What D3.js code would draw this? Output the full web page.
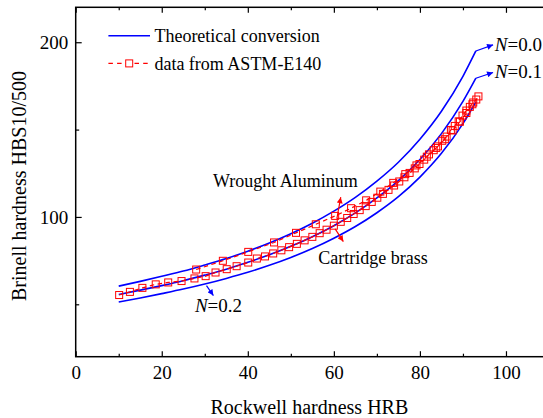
<!DOCTYPE html>
<html>
<head>
<meta charset="utf-8">
<script src="https://cdn.jsdelivr.net/npm/d3@7"></script>
<style>
    body { margin: 0; background: #ffffff; }
    svg text { font-family: "Liberation Serif", "Times New Roman", serif; }
</style>
</head>
<body>
<svg id="drawing_region"></svg>
<script>
// theoretical conversion curves (HRB -> HBS10/500)
const hrb_curve = [10, 15, 20, 25, 30, 35, 40, 45, 50, 55, 60, 65, 70, 75, 80, 85, 90, 93];
const hb_n00 = [60.4, 63.1, 66.0, 69.0, 72.5, 76.2, 80.4, 85.1, 90.4, 96.4, 103.3, 111.2, 120.5, 131.3, 144.5, 160.5, 180.5, 195.0];
const hb_n01 = [55.6, 58.1, 60.7, 63.5, 66.7, 70.1, 74.0, 78.3, 83.2, 88.7, 95.0, 102.3, 110.9, 120.8, 132.9, 147.7, 166.1, 179.4];
const hb_n02 = [51.3, 53.6, 56.1, 58.7, 61.6, 64.8, 68.3, 72.3, 76.8, 81.9, 87.8, 94.5, 102.4, 111.6, 122.8, 136.4, 153.4, 165.8];

// ASTM-E140 data : cartridge brass
const hrb_brass = [10.1, 12.6, 15.5, 18.6, 21.5, 24.6, 27.6, 30.2, 32.5, 35.1, 37.4, 40.1, 42.1, 44.0, 45.9,
    47.8, 49.6, 51.4, 53.2, 55.0, 56.7, 58.3, 60.0, 61.6, 63.1, 64.6, 66.0, 67.4, 68.8, 70.1, 71.4, 72.7,
    74.0, 75.2, 76.4, 77.6, 78.8, 79.9, 81.0, 82.1, 83.2, 84.2, 85.2, 86.2, 87.2, 88.1, 89.0, 89.9, 90.8,
    91.6, 92.4, 93.1, 93.6];
const hb_brass = [55.3, 57.1, 59.4, 61.4, 62.5, 63.3, 64.8, 66.1, 68.2, 70.1, 71.8, 73.9, 76.2, 77.4, 79.1,
    80.9, 82.7, 84.6, 86.6, 88.6, 90.7, 92.7, 95.0, 97.2, 99.4, 101.7, 103.9, 106.2, 108.6, 111.0, 113.2, 115.5,
    118.0, 120.3, 122.7, 125.2, 127.8, 130.3, 132.8, 135.8, 138.2, 140.4, 143.6, 146.0, 149.8, 152.1, 154.7, 158.0, 160.9,
    163.0, 165.5, 167.2, 169.0];

// ASTM-E140 data : wrought aluminum
const hrb_alum = [28.0, 34.2, 40.1, 46.1, 51.2, 55.8, 60.3, 64.0, 67.5, 70.8, 73.8, 76.6, 79.2, 81.6, 83.8, 85.8, 87.6, 89.3, 90.8, 92.2];
const hb_alum = [69.9, 74.9, 80.0, 85.4, 90.9, 95.8, 100.6, 105.0, 109.5, 114.5, 119.5, 124.5, 129.5, 134.5, 139.5, 144.5, 149.5, 154.5, 159.5, 164.5];

const x_ticks = [0, 20, 40, 60, 80, 100];
const x_minor = [10, 30, 50, 70, 90];
const y_ticks = [100, 200];
const y_minor = [50, 150];

const W = 543, H = 418;
const svg = d3.select('#drawing_region').attr('width', W).attr('height', H);

const xscale = d3.scaleLinear().domain([0, 110]).range([75.7, 549]);
const yscale = d3.scaleLinear().domain([20, 220]).range([356.7, 7.3]);

const zip = (xs, ys) => xs.map((d, i) => ({x: d, y: ys[i]}));

// arrow markers
const defs = svg.append('defs');
[['arr_blue', '#0000ff'], ['arr_red', '#ff0000']].forEach(([id, col]) => {
    defs.append('marker')
        .attr('id', id)
        .attr('viewBox', '0 0 10 10')
        .attr('refX', 10).attr('refY', 5)
        .attr('markerWidth', 8).attr('markerHeight', 6)
        .attr('markerUnits', 'userSpaceOnUse')
        .attr('orient', 'auto')
        .append('path')
        .attr('d', 'M0,0 L10,5 L0,10 z')
        .attr('fill', col);
});

// frame
svg.append('rect')
    .attr('x', xscale(0)).attr('y', yscale(220))
    .attr('width', xscale(110) - xscale(0))
    .attr('height', yscale(20) - yscale(220))
    .attr('fill', 'none').attr('stroke', '#000').attr('stroke-width', 1.5);

function style_axis(g) {
    g.select('.domain').remove();
    g.selectAll('line').attr('stroke', '#000').attr('stroke-width', 1.2);
    g.attr('font-family', '"Liberation Serif", serif').attr('font-size', 19);
    g.selectAll('text').attr('fill', '#000');
}

// bottom axis
svg.append('g')
    .attr('transform', `translate(0,${yscale(20)})`)
    .call(d3.axisBottom(xscale).tickValues(x_ticks).tickSize(-5.5).tickPadding(9).tickFormat(d3.format('d')))
    .call(style_axis);
svg.append('g')
    .attr('transform', `translate(0,${yscale(20)})`)
    .call(d3.axisBottom(xscale).tickValues(x_minor).tickSize(-3).tickFormat(() => ''))
    .call(style_axis);
// top axis (mirror ticks)
svg.append('g')
    .attr('transform', `translate(0,${yscale(220)})`)
    .call(d3.axisTop(xscale).tickValues(x_ticks).tickSize(-5.5).tickFormat(() => ''))
    .call(style_axis);
svg.append('g')
    .attr('transform', `translate(0,${yscale(220)})`)
    .call(d3.axisTop(xscale).tickValues(x_minor).tickSize(-3).tickFormat(() => ''))
    .call(style_axis);
// left axis
svg.append('g')
    .attr('transform', `translate(${xscale(0)},0)`)
    .call(d3.axisLeft(yscale).tickValues(y_ticks).tickSize(-6).tickPadding(7.4).tickFormat(d3.format('d')))
    .call(style_axis);
svg.append('g')
    .attr('transform', `translate(${xscale(0)},0)`)
    .call(d3.axisLeft(yscale).tickValues(y_minor).tickSize(-3.5).tickFormat(() => ''))
    .call(style_axis);

// axis titles
svg.append('text')
    .attr('x', 309.4).attr('y', 413.5)
    .attr('text-anchor', 'middle')
    .attr('font-size', 20)
    .text('Rockwell hardness HRB');
svg.append('text')
    .attr('transform', 'translate(26,186) rotate(-90)')
    .attr('text-anchor', 'middle')
    .attr('font-size', 20)
    .text('Brinell hardness HBS10/500');

// theoretical curves
const curve_line = d3.line()
    .x(d => xscale(d.x)).y(d => yscale(d.y))
    .curve(d3.curveMonotoneX);
[hb_n00, hb_n01, hb_n02].forEach(hb => {
    svg.append('path')
        .datum(zip(hrb_curve, hb))
        .attr('d', curve_line)
        .attr('fill', 'none')
        .attr('stroke', '#0000ff')
        .attr('stroke-width', 1.6);
});

// data series
const data_line = d3.line().x(d => xscale(d.x)).y(d => yscale(d.y));
const sq = 7;
[[hrb_alum, hb_alum], [hrb_brass, hb_brass]].forEach(([xs, ys]) => {
    const pts = zip(xs, ys);
    svg.append('path')
        .datum(pts)
        .attr('d', data_line)
        .attr('fill', 'none')
        .attr('stroke', '#ff0000')
        .attr('stroke-width', 1.2)
        .attr('stroke-dasharray', '4.5,3.5');
    svg.append('g').selectAll('rect')
        .data(pts)
        .join('rect')
        .attr('x', d => xscale(d.x) - sq / 2)
        .attr('y', d => yscale(d.y) - sq / 2)
        .attr('width', sq).attr('height', sq)
        .attr('fill', 'none')
        .attr('stroke', '#ff0000')
        .attr('stroke-width', 1);
});

// annotations (data coordinates)
function arrow(x1, y1, x2, y2, marker, col) {
    svg.append('line')
        .attr('x1', xscale(x1)).attr('y1', yscale(y1))
        .attr('x2', xscale(x2)).attr('y2', yscale(y2))
        .attr('stroke', col).attr('stroke-width', 1.2)
        .attr('marker-end', `url(#${marker})`);
}
function n_label(x, y, val) {
    const t = svg.append('text')
        .attr('x', xscale(x)).attr('y', yscale(y))
        .attr('font-size', 19);
    t.append('tspan').attr('font-style', 'italic').text('N');
    t.append('tspan').text('=' + val);
}

const n_end = hrb_curve.length - 1;
arrow(hrb_curve[n_end], hb_n00[n_end], 97.0, 198.5, 'arr_blue', '#0000ff');
n_label(97.4, 195.2, '0.0');
arrow(hrb_curve[n_end], hb_n01[n_end], 97.0, 182.7, 'arr_blue', '#0000ff');
n_label(97.4, 179.5, '0.1');
arrow(30.4, 60.7, 32.0, 55.0, 'arr_blue', '#0000ff');
n_label(27.7, 45.5, '0.2');

svg.append('text')
    .attr('x', xscale(31.9)).attr('y', yscale(117.0))
    .attr('font-size', 18)
    .text('Wrought Aluminum');
arrow(60.7, 99.1, 61.6, 111.3, 'arr_red', '#ff0000');
svg.append('text')
    .attr('x', xscale(56.4)).attr('y', yscale(73.2))
    .attr('font-size', 18)
    .text('Cartridge brass');
arrow(60.3, 93.2, 62.2, 85.9, 'arr_red', '#ff0000');

// legend
const legend = svg.append('g');
legend.append('line')
    .attr('x1', 108.4).attr('x2', 150).attr('y1', 35.7).attr('y2', 35.7)
    .attr('stroke', '#0000ff').attr('stroke-width', 1.6);
legend.append('text')
    .attr('x', 154.4).attr('y', 41.8)
    .attr('font-size', 18)
    .text('Theoretical conversion');
legend.append('line')
    .attr('x1', 108.4).attr('x2', 150).attr('y1', 63.4).attr('y2', 63.4)
    .attr('stroke', '#ff0000').attr('stroke-width', 1.2)
    .attr('stroke-dasharray', '4.5,4.2');
legend.append('rect')
    .attr('x', 129.2 - sq / 2).attr('y', 63.4 - sq / 2)
    .attr('width', sq).attr('height', sq)
    .attr('fill', '#fff').attr('stroke', '#ff0000').attr('stroke-width', 1);
legend.append('text')
    .attr('x', 154.4).attr('y', 69.5)
    .attr('font-size', 18)
    .text('data from ASTM-E140');
</script>
</body>
</html>
